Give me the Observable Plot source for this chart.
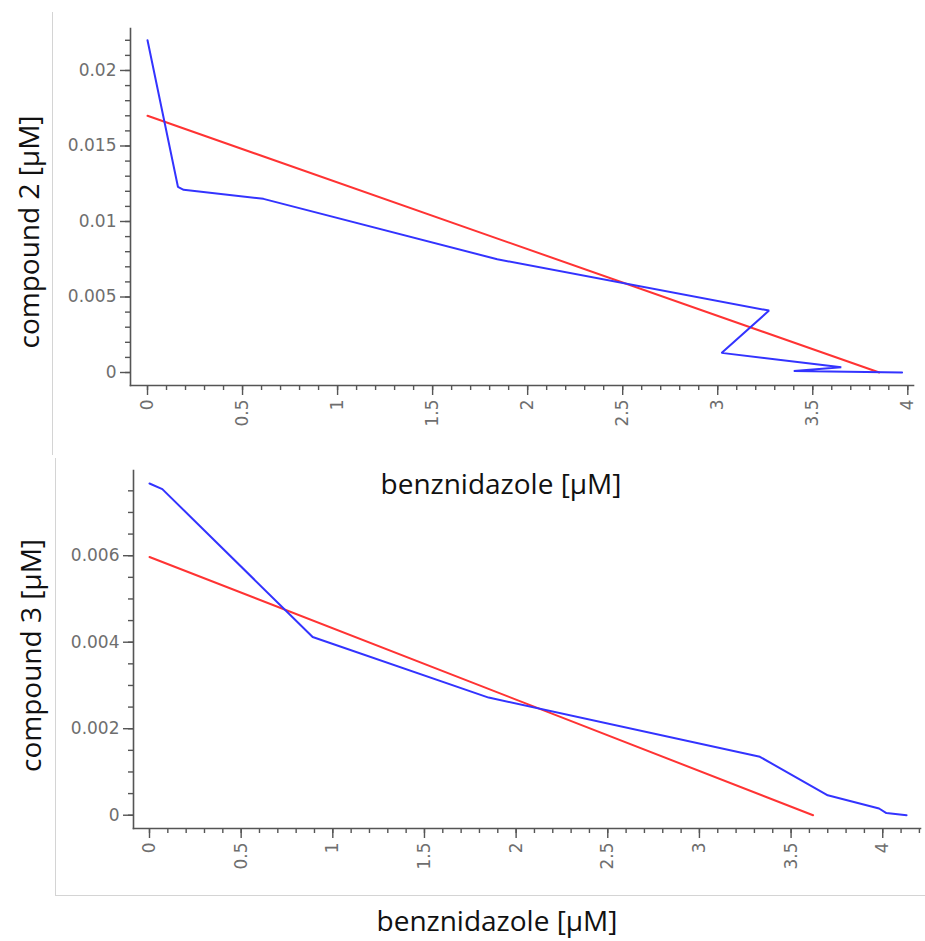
<!DOCTYPE html>
<html><head><meta charset="utf-8">
<script src="https://cdn.jsdelivr.net/npm/d3@7"></script>
<script src="https://cdn.jsdelivr.net/npm/@observablehq/plot@0.6"></script>
<style>
body{margin:0;background:#fff;width:925px;height:941px;position:relative;overflow:hidden}
.chart{position:absolute;left:0}
.chart svg{background:transparent !important;max-width:none}
.edge{position:absolute;background:#d4d4d4}
</style></head><body>
<div class="edge" style="left:52px;top:12px;width:1px;height:443px"></div>
<div class="edge" style="left:55px;top:458px;width:1px;height:437px"></div>
<div class="edge" style="left:55px;top:895px;width:870px;height:1px"></div>
<div id="top" class="chart" style="top:0"></div>
<div id="bot" class="chart" style="top:455px"></div>
<script>
// ---- top panel: compound 2 vs benznidazole ----
const topBenz = [0, 0.16, 0.19, 0.61, 1.84, 3.27, 3.02, 3.65, 3.40, 3.97];
const topCmp2 = [0.022, 0.0123, 0.0121, 0.0115, 0.0075, 0.0041, 0.0013, 0.00035, 0.0001, 0];
const topFitX = [0, 3.85];
const topFitY = [0.017, 0];
const topXTicks = [0, 0.5, 1, 1.5, 2, 2.5, 3, 3.5, 4];
const topXLabels = ["0", "0.5", "1", "1.5", "2", "2.5", "3", "3.5", "4"];
const topYTicks = [0, 0.005, 0.01, 0.015, 0.02];
const topYLabels = ["0", "0.005", "0.01", "0.015", "0.02"];
const topXMinor = d3.range(0, 41).map(i => i / 10);
const topYMinor = d3.range(0, 23).map(i => i / 1000);

// ---- bottom panel: compound 3 vs benznidazole ----
const botBenz = [0, 0.07, 0.89, 1.85, 3.33, 3.70, 3.98, 4.02, 4.13];
const botCmp3 = [0.00767, 0.00754, 0.00412, 0.00272, 0.00135, 0.00046, 0.000155, 0.00005, 0];
const botFitX = [0, 3.62];
const botFitY = [0.00597, 0];
const botXTicks = [0, 0.5, 1, 1.5, 2, 2.5, 3, 3.5, 4];
const botXLabels = ["0", "0.5", "1", "1.5", "2", "2.5", "3", "3.5", "4"];
const botYTicks = [0, 0.002, 0.004, 0.006];
const botYLabels = ["0", "0.002", "0.004", "0.006"];
const botXMinor = d3.range(0, 43).map(i => i / 10);
const botYMinor = d3.range(0, 16).map(i => i / 2000);

const xTitle = "benznidazole [µM]";
const AX = "#555", TXT = "#6e6e6e", BLUE = "#3333ff", RED = "#ff3333";
const tickFont = "DejaVu Sans", titleFont = "Open Sans";

function chart(o) {
  return Plot.plot({
    width: 925, height: o.height,
    marginTop: o.mt, marginBottom: o.mb, marginLeft: o.ml, marginRight: o.mr,
    style: {background: "transparent", overflow: "visible"},
    x: {domain: o.xDomain, axis: null},
    y: {domain: o.yDomain, axis: null},
    marks: [
      Plot.axisY(o.yMinor, {anchor: "left", tickSize: 5, tickFormat: () => "", stroke: AX, strokeWidth: 1.4, label: null}),
      Plot.axisY(o.yTicks, {anchor: "left", tickSize: 10, tickPadding: 4, tickFormat: d => o.yLabels[o.yTicks.indexOf(d)],
        stroke: AX, strokeWidth: 1.4, fill: TXT, fontSize: 17, fontFamily: tickFont, label: null}),
      Plot.axisX(o.xMinor, {anchor: "bottom", tickSize: 5, tickFormat: () => "", stroke: AX, strokeWidth: 1.4, label: null}),
      Plot.axisX(o.xTicks, {anchor: "bottom", tickSize: 10, tickPadding: 4, tickRotate: -90,
        tickFormat: d => o.xLabels[o.xTicks.indexOf(d)],
        stroke: AX, strokeWidth: 1.4, fill: TXT, fontSize: 17, fontFamily: tickFont, label: null}),
      Plot.frame({anchor: "left", stroke: AX, strokeWidth: 1.6}),
      Plot.frame({anchor: "bottom", stroke: AX, strokeWidth: 1.6}),
      Plot.line(o.fitX, {x: o.fitX, y: o.fitY, stroke: RED, strokeWidth: 2}),
      Plot.line(o.dataX, {x: o.dataX, y: o.dataY, stroke: BLUE, strokeWidth: 2, strokeLinejoin: "miter"}),
      Plot.text([o.yTitle], {frameAnchor: "left", dx: o.ytdx, dy: o.ytdy, rotate: -90, textAnchor: "middle", lineAnchor: "middle",
        fontSize: 28, fontFamily: titleFont, fill: "#111"}),
      Plot.text([xTitle], {frameAnchor: "bottom", dx: o.xtdx, dy: o.xtdy, textAnchor: "middle", lineAnchor: "middle",
        fontSize: 28, fontFamily: titleFont, fill: "#111"})
    ]
  });
}

document.getElementById("top").append(chart({
  height: 510, mt: 28, mb: 125, ml: 130, mr: 12,
  xDomain: [-0.0895, 4.03], yDomain: [-0.00086, 0.02278],
  xTicks: topXTicks, xLabels: topXLabels, xMinor: topXMinor,
  yTicks: topYTicks, yLabels: topYLabels, yMinor: topYMinor,
  fitX: topFitX, fitY: topFitY, dataX: topBenz, dataY: topCmp2,
  yTitle: "compound 2 [µM]", ytdx: -100, ytdy: 25, xtdx: -21, xtdy: 100
}));

document.getElementById("bot").append(chart({
  height: 486, mt: 15, mb: 113, ml: 133, mr: 5,
  xDomain: [-0.0873, 4.206], yDomain: [-0.000307, 0.00797],
  xTicks: botXTicks, xLabels: botXLabels, xMinor: botXMinor,
  yTicks: botYTicks, yLabels: botYLabels, yMinor: botYMinor,
  fitX: botFitX, fitY: botFitY, dataX: botBenz, dataY: botCmp3,
  yTitle: "compound 3 [µM]", ytdx: -101, ytdy: 6, xtdx: -30, xtdy: 94
}));
</script>
</body></html>
